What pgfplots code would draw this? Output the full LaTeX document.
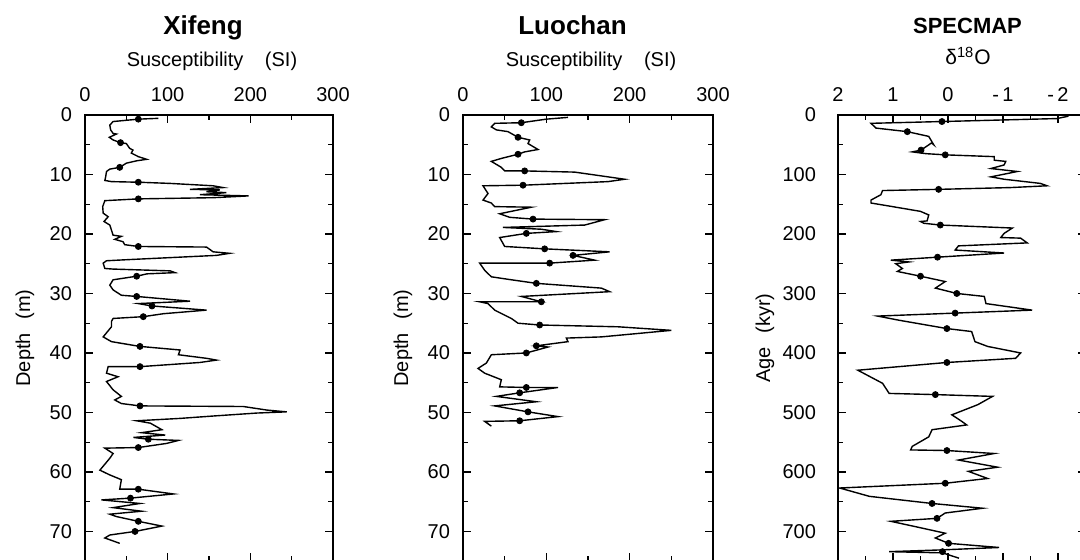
\documentclass[border=0pt]{standalone}
\usepackage{pgfplots}
\pgfplotsset{compat=1.18}
\usepackage{fontspec}
\setmainfont{Liberation Sans}

\pgfplotsset{
  core/.style={
    scale only axis,
    height=223.1pt,
    anchor=north west,
    y dir=reverse,
    axis line style={line width=0.6pt},
    every tick/.style={line width=0.6pt, black},
    major tick length=4pt,
    minor tick length=2.5pt,
    tick align=inside,
    xticklabel pos=top,
    minor x tick num=1,
    minor y tick num=1,
    tick label style={font=\fontsize{10}{12}\selectfont},
    xticklabel style={yshift=3pt},
    yticklabel style={xshift=-3pt},
    ylabel style={font=\fontsize{10}{12}\selectfont, at={(axis description cs:0,0.5)}, anchor=center},
  },
  depth/.style={
    ymin=0, ymax=75,
    ytick={0,10,...,70},
    yticklabels={0,10,20,30,40,50,60,70},
    xmin=0, xmax=300,
    xtick={0,100,200,300},
    xticklabels={0,100,200,300},
    ylabel={Depth\hspace{4pt} (m)},
    ylabel style={yshift=30pt},
  },
  curve/.style={black, line width=0.7pt, mark=none},
  dots/.style={only marks, mark=*, mark size=1.5pt, black},
}

\begin{document}
\begin{tikzpicture}
\path[use as bounding box, clip] (0,0) rectangle (540pt,280pt);

% Xifeng
\begin{axis}[core, depth, at={(42.5pt,222.5pt)}, width=124pt]
\addplot[curve] coordinates {
(88.7,0.56) (64.5,0.7) (34,1.1) (30,1.7) (31,2.5) (34,3.1) (38,3.2) (29.4,3.75) (34,4.2) (43,4.65)
(50,4.8) (54,5.6) (58,5.9) (56,6.4) (64.5,7.0) (74.6,7.45) (62.5,7.7) (50,8.1) (42,8.8) (30,9.1)
(26,9.5) (25,10.4) (24,11.0) (32,11.2) (64.5,11.3) (103,11.5) (155,11.9) (167,12.2) (127,12.5) (163,12.6)
(147,12.9) (171,13.05) (139,13.4) (198,13.6) (155,13.9) (64.5,14.1) (24,14.4) (21.4,15.4) (22,16.5) (28,17.1)
(23,17.9) (30,18.5) (34,20.2) (44,20.4) (36,20.9) (46,21.3) (48,21.8) (64.5,22.1) (147,22.2) (155,23.0)
(175,23.25) (159,23.6) (54,24.3) (26,24.5) (22,24.9) (24,25.8) (34,25.9) (103,26.2) (109,26.5) (75,26.7)
(62.5,27.1) (34,27.7) (30,28.6) (34,29.4) (44,30.3) (62.5,30.5) (127,31.3) (64.5,31.7) (81,32.1) (147,32.8)
(95,33.4) (70.5,33.9) (34,34.2) (32,34.7) (32,35.6) (22,37.3) (32,38.1) (66.5,38.9) (115,39.5) (113,40.3)
(147,40.9) (159,41.2) (139,41.6) (66.5,42.3) (28,42.3) (26,43.4) (40,44.0) (26,44.8) (34,46.2) (44,47.3)
(36,47.9) (44,48.5) (66.5,48.9) (191.5,49.0) (220,49.6) (244,49.9) (208,50.1) (155,50.6) (115,51.0) (62.5,51.4)
(79,51.8) (93,52.9) (68.5,53.4) (97,53.8) (58.5,54.2) (76.6,54.5) (113,54.7) (99,55.2) (64.5,55.9) (24,56.0)
(34,56.9) (30,57.7) (18,59.7) (30,60.5) (44,61.3) (42,62.9) (64.5,62.9) (107,63.7) (55,64.4) (20,64.7)
(66.5,65.3) (34,66.0) (68.5,66.6) (30,67.1) (38,67.5) (64.5,68.3) (93,69.1) (60.5,70.0) (30,70.6) (24,71.1)
(42,72.0)
};
\addplot[dots] coordinates {
(64.5,0.7) (43,4.65) (42,8.8) (64.5,11.3) (64.5,14.1) (64.5,22.1) (62.5,27.1) (62.5,30.5) (81,32.1) (70.5,33.9)
(66.5,38.9) (66.5,42.3) (66.5,48.9) (76.6,54.5) (64.5,55.9) (64.5,62.9) (55,64.4) (64.5,68.3) (60.5,70.0)
};
\end{axis}

% Luochan
\begin{axis}[core, depth, at={(231.5pt,222.5pt)}, width=125pt]
\addplot[curve] coordinates {
(126,0.4) (100,0.7) (70,1.3) (38,1.4) (34,2.0) (40,2.5) (54,2.8) (66,3.75) (80,4.2) (78,4.8)
(90,5.8) (74,6.2) (66,6.6) (46,7.3) (34,7.8) (46,8.8) (50,9.4) (74,9.4) (134,9.6) (174,10.4)
(194,10.8) (174,11.2) (72,11.8) (24,11.9) (30,13.2) (24,14.3) (34,14.8) (38,15.4) (82,15.5) (44,16.6)
(56,17.2) (84,17.5) (170,17.6) (146,18.5) (48,18.9) (94,19.2) (112,19.6) (76,19.9) (44,20.6) (50,22.1)
(98,22.5) (176,23.0) (132,23.6) (158,24.4) (104,24.9) (20,24.9) (26,26.1) (34,27.2) (58,27.7) (88,28.3)
(166,29.1) (176,29.7) (70,30.5) (94,31.4) (20,31.4) (30,31.7) (38,32.8) (58,34.2) (66,35.0) (92,35.3)
(186,35.6) (250,36.2) (166,37.3) (124,37.5) (126,38.1) (88,38.8) (102,39.0) (76,40.0) (34,40.3) (28,41.7)
(18,42.6) (26,43.4) (46,44.5) (44,45.7) (76,45.8) (114,45.8) (68,46.7) (40,47.3) (88,48.2) (38,48.9)
(78,49.9) (114,50.7) (68,51.4) (26,51.5) (34,52.3)
};
\addplot[dots] coordinates {
(70,1.3) (66,3.75) (66,6.6) (74,9.4) (72,11.8) (84,17.5) (76,19.9) (98,22.5) (132,23.6) (104,24.9)
(88,28.3) (94,31.4) (92,35.3) (88,38.8) (76,40.0) (76,45.8) (68,46.7) (78,49.9) (68,51.4)
};
\end{axis}

% SPECMAP
\begin{axis}[core, at={(419pt,222.5pt)}, width=123.75pt,
  ymin=0, ymax=750,
  ytick={0,100,...,700},
  yticklabels={0,100,200,300,400,500,600,700},
  x dir=reverse,
  xmin=-2.5, xmax=2,
  xtick={2,1,0,-1,-2},
  xticklabels={2,1,0,{-\,1},{-\,2}},
  ylabel={Age\hspace{4pt} (kyr)},
  ylabel style={yshift=36.5pt},
  yticklabel style={xshift=-4.5pt},
]
\addplot[curve] coordinates {
(-2.19,2) (-1.98,6) (0.11,11) (1.4,14) (1.31,22) (0.74,28) (0.35,36) (0.26,50) (0.30,47) (0.49,59)
(0.65,62) (0.40,65) (0.05,67) (-0.84,70) (-0.84,76) (-1.05,78) (-1.02,84) (-0.78,90) (-1.26,95) (-0.78,104)
(-1.02,108) (-1.68,115) (-1.8,119) (-1.14,122) (0.17,125) (1.19,127) (1.22,134) (1.40,143) (1.40,148) (1.01,154)
(0.5,162) (0.35,168) (0.38,178) (0.5,179) (0.44,182) (0.14,185) (-1.17,190) (-1.02,199) (-0.96,206) (-1.32,207)
(-1.44,215) (-0.19,220) (-0.13,227) (-1.02,232) (0.19,239) (1.04,244) (0.71,247) (0.95,250) (0.83,258) (0.92,263)
(0.50,271) (0.05,280) (0.23,291) (-0.16,300) (-0.66,305) (-0.69,317) (-1.53,328) (-0.13,333) (1.28,338) (0.89,345)
(0.02,359) (-0.43,364) (-0.49,381) (-0.72,389) (-1.32,400) (-1.23,409) (0.02,416) (1.64,429) (1.19,451) (1.07,468)
(0.23,470) (-0.81,473) (-0.54,487) (-0.07,504) (-0.25,515) (-0.34,521) (0.29,529) (0.35,541) (0.65,557) (0.68,563)
(0.02,564) (-0.84,569) (-0.19,580) (-0.9,592) (-0.37,599) (-0.72,611) (0.05,619) (1.97,627) (1.43,641) (0.29,653)
(-0.63,661) (0.05,669) (0.2,678) (1.04,683) (0.59,692) (0.05,703) (0.23,711) (-0.01,720) (-0.93,727) (0.11,731)
(1.07,734) (0.1,736) (-0.2,745)
};
\addplot[dots] coordinates {
(0.11,11) (0.74,28) (0.49,59) (0.05,67) (0.17,125) (0.14,185) (0.19,239) (0.50,271) (-0.16,300) (-0.13,333)
(0.02,359) (0.02,416) (0.23,470) (0.02,564) (0.05,619) (0.29,653) (0.2,678) (-0.01,720) (0.1,734)
};
\end{axis}

% titles
\node[anchor=base, font=\bfseries\fontsize{13}{15}\selectfont] at (101.5pt,262.5pt) {Xifeng};
\node[anchor=base, font=\fontsize{10}{12}\selectfont] at (106pt,246.7pt) {Susceptibility\hspace{8pt} (SI)};
\node[anchor=base, font=\bfseries\fontsize{13}{15}\selectfont] at (286.25pt,262.5pt) {Luochan};
\node[anchor=base, font=\fontsize{10}{12}\selectfont] at (295.5pt,246.7pt) {Susceptibility\hspace{8pt} (SI)};
\node[anchor=base, font=\bfseries\fontsize{11}{13}\selectfont] at (483.75pt,263.3pt) {SPECMAP};
\node[anchor=base, font=\fontsize{10.5}{12}\selectfont] at (484pt,247.5pt) {δ\textsuperscript{18}O};
\end{tikzpicture}
\end{document}
